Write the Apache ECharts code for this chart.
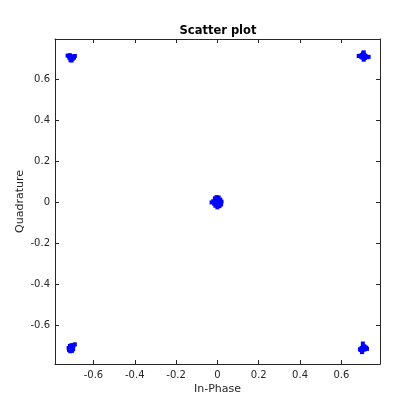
<!DOCTYPE html>
<html>
<head>
<meta charset="utf-8">
<script src="https://cdn.jsdelivr.net/npm/echarts@6/dist/echarts.min.js"></script>
<style>html,body{margin:0;padding:0;background:#fff}#c{width:420px;height:420px}</style>
</head>
<body>
<div id="c"></div>
<script>
const titleText = 'Scatter plot';
const xName = 'In-Phase';
const yName = 'Quadrature';
const xTicks = [-0.6, -0.4, -0.2, 0, 0.2, 0.4, 0.6];
const yTicks = [-0.6, -0.4, -0.2, 0, 0.2, 0.4, 0.6];
const xRange = [-0.786, 0.787];
const yRange = [-0.79, 0.795];

const clusterTopLeft = [[-0.725,0.714],[-0.718,0.711],[-0.712,0.706],[-0.704,0.703],[-0.697,0.710],[-0.690,0.712],[-0.694,0.704],[-0.701,0.698],[-0.709,0.697],[-0.706,0.690],[-0.714,0.716],[-0.700,0.706],[-0.716,0.703],[-0.708,0.709],[-0.711,0.692]];
const clusterTopRight = [[0.684,0.712],[0.692,0.714],[0.700,0.716],[0.704,0.724],[0.708,0.730],[0.712,0.718],[0.718,0.710],[0.726,0.706],[0.732,0.708],[0.714,0.702],[0.708,0.694],[0.702,0.704],[0.696,0.708],[0.716,0.712],[0.706,0.710]];
const clusterCenter = [[-0.028,-0.002],[-0.020,0.004],[-0.012,0.018],[-0.004,0.024],[0.006,0.022],[0.014,0.012],[0.020,0.002],[0.018,-0.012],[0.010,-0.020],[0.000,-0.026],[-0.010,-0.018],[-0.016,-0.008],[-0.004,0.006],[0.006,-0.004],[-0.008,-0.004],[0.004,0.010]];
const clusterBottomLeft = [[-0.720,-0.712],[-0.718,-0.722],[-0.712,-0.728],[-0.704,-0.726],[-0.698,-0.718],[-0.702,-0.706],[-0.696,-0.700],[-0.690,-0.694],[-0.708,-0.714],[-0.714,-0.702],[-0.706,-0.698],[-0.700,-0.710],[-0.716,-0.716]];
const clusterBottomRight = [[0.704,-0.690],[0.690,-0.718],[0.698,-0.712],[0.704,-0.706],[0.712,-0.704],[0.720,-0.710],[0.724,-0.716],[0.716,-0.718],[0.708,-0.720],[0.702,-0.724],[0.700,-0.732],[0.694,-0.722],[0.712,-0.712],[0.706,-0.714]];

const points = [].concat(clusterTopLeft, clusterTopRight, clusterCenter, clusterBottomLeft, clusterBottomRight);

const ink = '#262626';
const font = 'DejaVu Sans';
const lineStyle = {color: ink, width: 1};
function fmt(v){ return String(v); }

function xAx(pos, labels){
  return {
    type: 'value', position: pos, min: xRange[0], max: xRange[1],
    axisLine: {show: true, onZero: false, lineStyle},
    axisTick: {show: true, inside: true, length: 4, customValues: xTicks, lineStyle},
    axisLabel: {show: labels, customValues: xTicks, formatter: fmt, color: ink, fontFamily: font, fontSize: 10, margin: 6},
    splitLine: {show: false},
    name: labels ? xName : '', nameLocation: 'middle', nameGap: 20, nameMoveOverlap: false,
    nameTextStyle: {color: ink, fontFamily: font, fontSize: 11}
  };
}
function yAx(pos, labels){
  return {
    type: 'value', position: pos, min: yRange[0], max: yRange[1],
    axisLine: {show: true, onZero: false, lineStyle},
    axisTick: {show: true, inside: true, length: 4, customValues: yTicks, lineStyle},
    axisLabel: {show: labels, customValues: yTicks, formatter: fmt, color: ink, fontFamily: font, fontSize: 10, margin: 5},
    splitLine: {show: false},
    name: labels ? yName : '', nameLocation: 'middle', nameGap: 29, nameRotate: 90, nameMoveOverlap: false,
    nameTextStyle: {color: ink, fontFamily: font, fontSize: 11}
  };
}

const chart = echarts.init(document.getElementById('c'), null, {renderer: 'canvas'});
chart.setOption({
  animation: false,
  backgroundColor: '#fff',
  title: {text: titleText, left: 218, top: 25, textAlign: 'center', padding: 0,
    textStyle: {fontFamily: font, fontSize: 11.5, fontWeight: 'bold', color: '#000'}},
  grid: {left: 55, right: 40, top: 39, bottom: 56, containLabel: false},
  xAxis: [xAx('bottom', true), xAx('top', false)],
  yAxis: [yAx('left', true), yAx('right', false)],
  series: [{
    type: 'scatter', xAxisIndex: 0, yAxisIndex: 0,
    data: points, symbol: 'rect', symbolSize: 4,
    itemStyle: {color: '#0000ff', opacity: 1},
    emphasis: {disabled: true}
  }]
});
</script>
</body>
</html>
